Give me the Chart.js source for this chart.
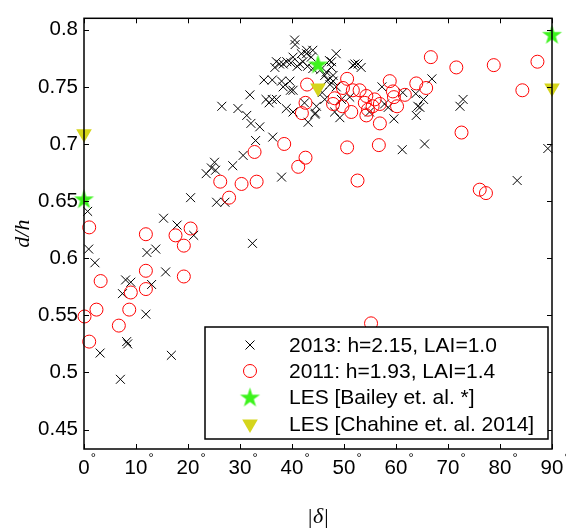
<!DOCTYPE html>
<html>
<head>
<meta charset="utf-8">
<script src="https://cdn.jsdelivr.net/npm/chart.js@4.4.0/dist/chart.umd.min.js"></script>
<style>
  html, body { margin: 0; padding: 0; background: #fff; }
  #wrap { width: 566px; height: 528px; }
</style>
</head>
<body>
<div id="wrap"><canvas id="chart" width="566" height="528"></canvas></div>
<script>
// axis ticks
const xTicks = [0, 10, 20, 30, 40, 50, 60, 70, 80, 90];
const yTicks = [0.45, 0.5, 0.55, 0.6, 0.65, 0.7, 0.75, 0.8];

// series labels
const seriesLabels = [
  '2013: h=2.15, LAI=1.0',
  '2011: h=1.93, LAI=1.4',
  'LES [Bailey et. al. *]',
  'LES [Chahine et. al. 2014]',
];

// 2013 field data: [|delta|, d/h]
const field2013 = [
  [0.7, 0.641], [0.9, 0.608], [2.1, 0.596], [3.1, 0.517], [7.0, 0.494], [8.2, 0.527], [8.4, 0.525],
  [8.0, 0.581], [9.0, 0.579], [7.4, 0.569], [11.9, 0.551], [12.1, 0.605], [13.8, 0.608], [13.0, 0.577],
  [15.7, 0.588], [15.3, 0.635], [17.9, 0.629], [21.1, 0.620], [20.5, 0.653], [16.8, 0.515], [25.5, 0.649],
  [27.1, 0.649], [32.4, 0.613],
  [23.5, 0.674], [24.5, 0.679], [25.1, 0.684], [25.3, 0.677], [28.6, 0.681], [30.6, 0.690], [33.0, 0.703],
  [36.3, 0.706], [38.0, 0.671], [32.1, 0.718], [33.8, 0.715], [26.5, 0.733], [29.6, 0.731], [31.3, 0.725],
  [31.9, 0.743], [35.0, 0.739], [35.6, 0.736], [36.2, 0.739], [34.6, 0.756], [36.2, 0.756], [38.3, 0.750],
  [38.0, 0.755], [39.6, 0.755], [39.7, 0.747], [40.2, 0.747], [37.0, 0.739], [38.9, 0.731], [40.2, 0.728],
  [42.4, 0.736], [43.1, 0.719], [44.5, 0.727], [44.7, 0.733], [44.4, 0.726],
  [36.7, 0.767], [37.0, 0.772], [37.6, 0.770], [38.3, 0.770], [39.0, 0.772], [39.8, 0.771], [40.2, 0.776],
  [40.5, 0.791], [40.6, 0.787], [41.0, 0.768], [41.5, 0.770], [42.1, 0.772], [42.8, 0.779], [41.8, 0.779],
  [42.8, 0.782], [44.0, 0.782], [43.7, 0.776], [43.0, 0.768], [44.0, 0.766], [45.5, 0.765], [46.3, 0.760],
  [46.6, 0.763], [47.2, 0.773], [47.6, 0.767], [47.6, 0.772], [48.5, 0.779], [47.9, 0.760], [46.9, 0.756],
  [47.9, 0.755], [48.5, 0.750], [47.3, 0.752], [46.3, 0.739], [45.8, 0.745], [51.7, 0.769], [52.1, 0.770],
  [52.7, 0.770], [53.3, 0.767],
  [48.2, 0.728], [49.2, 0.723], [49.5, 0.739], [51.1, 0.741], [54.9, 0.728], [57.3, 0.750], [57.8, 0.735],
  [58.5, 0.732], [59.6, 0.722], [61.3, 0.745], [63.8, 0.744], [65.3, 0.739], [64.6, 0.732], [64.2, 0.733],
  [63.9, 0.725], [66.9, 0.757], [72.9, 0.739], [72.3, 0.733], [61.2, 0.695], [65.5, 0.700], [83.3, 0.668],
  [89.2, 0.696],
];

// 2011 field data: [|delta|, d/h]
const field2011 = [
  [0.1, 0.549], [1.0, 0.627], [1.0, 0.527], [3.2, 0.580], [2.4, 0.555], [6.7, 0.541], [8.7, 0.555],
  [9.0, 0.570], [11.9, 0.573], [11.9, 0.589], [11.9, 0.621], [17.6, 0.620], [20.5, 0.626], [19.2, 0.611],
  [19.2, 0.584],
  [26.2, 0.667], [27.9, 0.653], [30.3, 0.665], [33.2, 0.667], [32.8, 0.693], [38.5, 0.700], [41.2, 0.680],
  [42.6, 0.688], [41.9, 0.727], [42.6, 0.736], [42.9, 0.752],
  [50.6, 0.757], [49.8, 0.749], [48.2, 0.740], [49.7, 0.733], [47.9, 0.735], [51.4, 0.728], [51.7, 0.747],
  [53.0, 0.747], [54.3, 0.742], [54.0, 0.736], [54.6, 0.730], [54.3, 0.725], [55.5, 0.733], [55.9, 0.739],
  [56.9, 0.735], [56.9, 0.718], [58.8, 0.755], [59.4, 0.746], [59.6, 0.741], [60.2, 0.733], [61.7, 0.743],
  [63.9, 0.753], [65.8, 0.749], [66.7, 0.776], [71.6, 0.767], [78.8, 0.769], [87.2, 0.772], [84.3, 0.747],
  [72.6, 0.710], [50.6, 0.697], [56.7, 0.699], [52.6, 0.668], [76.1, 0.660], [77.3, 0.657], [55.2, 0.543],
];

// LES results
const lesBailey = [[0, 0.652], [45, 0.770], [90, 0.796]];
const lesChahine = [[0, 0.709], [45, 0.749], [90, 0.749]];

const RED = '#ff0000';
const GREEN = '#3cf31c';
const YELLOW = '#d5d51c';

// filled pentagram used as point style
function makeStar(r, color) {
  const c = document.createElement('canvas');
  const s = Math.ceil(r * 2 + 2);
  c.width = s; c.height = s;
  const g = c.getContext('2d');
  g.fillStyle = color;
  g.beginPath();
  for (let i = 0; i < 10; i++) {
    const rad = i % 2 === 0 ? r : r * 0.382;
    const a = -Math.PI / 2 + i * Math.PI / 5;
    const px = s / 2 + rad * Math.cos(a);
    const py = s / 2 + r * 0.1 + rad * Math.sin(a);
    i === 0 ? g.moveTo(px, py) : g.lineTo(px, py);
  }
  g.closePath();
  g.fill();
  return c;
}
const starImg = makeStar(10.5, GREEN);

const toPts = arr => arr.map(([x, y]) => ({ x, y }));

const frame = {
  id: 'frame',
  afterDraw(chart) {
    const { ctx, chartArea: a, scales: { x, y } } = chart;
    ctx.save();

    // inward ticks on all sides
    ctx.strokeStyle = '#000';
    ctx.lineWidth = 1;
    ctx.beginPath();
    xTicks.forEach(v => {
      const px = Math.round(x.getPixelForValue(v)) + 0.5;
      ctx.moveTo(px, a.bottom); ctx.lineTo(px, a.bottom - 5);
      ctx.moveTo(px, a.top); ctx.lineTo(px, a.top + 5);
    });
    yTicks.forEach(v => {
      const py = Math.round(y.getPixelForValue(v)) + 0.5;
      ctx.moveTo(a.left, py); ctx.lineTo(a.left + 5, py);
      ctx.moveTo(a.right, py); ctx.lineTo(a.right - 5, py);
    });
    ctx.stroke();

    // box
    ctx.lineWidth = 1.5;
    ctx.strokeRect(a.left, a.top, a.right - a.left, a.bottom - a.top);

    // x tick labels with degree sign
    ctx.fillStyle = '#000';
    ctx.textBaseline = 'middle';
    xTicks.forEach(v => {
      const px = x.getPixelForValue(v);
      ctx.font = '20.5px "Liberation Sans"';
      ctx.textAlign = 'center';
      const txt = String(v);
      const w = ctx.measureText(txt).width;
      ctx.fillText(txt, px, a.bottom + 19);
      ctx.font = '13px "Liberation Sans"';
      ctx.textAlign = 'left';
      ctx.fillText('°', px + w / 2 + 1, a.bottom + 9);
    });

    // legend
    const lx = 205, ly = 327, lw = 343, lh = 112;
    ctx.fillStyle = '#fff';
    ctx.fillRect(lx, ly, lw, lh);
    ctx.lineWidth = 1.5;
    ctx.strokeStyle = '#000';
    ctx.strokeRect(lx, ly, lw, lh);
    const rows = [345, 371, 397, 424];
    const mx = 250;
    // cross
    ctx.lineWidth = 1;
    ctx.beginPath();
    ctx.moveTo(mx - 4.5, rows[0] - 4.5); ctx.lineTo(mx + 4.5, rows[0] + 4.5);
    ctx.moveTo(mx + 4.5, rows[0] - 4.5); ctx.lineTo(mx - 4.5, rows[0] + 4.5);
    ctx.stroke();
    // circle
    ctx.strokeStyle = RED;
    ctx.beginPath();
    ctx.arc(mx, rows[1], 6.5, 0, Math.PI * 2);
    ctx.stroke();
    // star
    ctx.drawImage(starImg, mx - starImg.width / 2, rows[2] - starImg.height / 2);
    // triangle
    ctx.fillStyle = YELLOW;
    ctx.beginPath();
    ctx.moveTo(mx - 7.8, rows[3] - 4.5);
    ctx.lineTo(mx + 7.8, rows[3] - 4.5);
    ctx.lineTo(mx, rows[3] + 9);
    ctx.closePath();
    ctx.fill();

    ctx.fillStyle = '#000';
    ctx.font = '21px "Liberation Sans"';
    ctx.textAlign = 'left';
    seriesLabels.forEach((t, i) => ctx.fillText(t, 289, rows[i] + 1));

    ctx.restore();
  }
};

Chart.defaults.font.family = '"Liberation Sans", Arial, sans-serif';
Chart.defaults.color = '#000';

new Chart(document.getElementById('chart'), {
  type: 'scatter',
  data: {
    datasets: [
      {
        label: seriesLabels[3], data: toPts(lesChahine), order: 1, clip: false,
        pointStyle: 'triangle', rotation: 180, pointRadius: 9,
        backgroundColor: YELLOW, borderColor: YELLOW, borderWidth: 0,
      },
      {
        label: seriesLabels[2], data: toPts(lesBailey), order: 2, clip: false,
        pointStyle: starImg, pointRadius: 10,
      },
      {
        label: seriesLabels[1], data: toPts(field2011), order: 3, clip: false,
        pointStyle: 'circle', pointRadius: 6.5,
        backgroundColor: 'rgba(0,0,0,0)', borderColor: RED, borderWidth: 1,
      },
      {
        label: seriesLabels[0], data: toPts(field2013), order: 4, clip: false,
        pointStyle: 'crossRot', pointRadius: 6.3,
        borderColor: '#000', borderWidth: 1,
      },
    ],
  },
  options: {
    responsive: false,
    animation: false,
    devicePixelRatio: 1,
    layout: { padding: { top: 8, right: 14, left: 0, bottom: 0 } },
    plugins: { legend: { display: false }, tooltip: { enabled: false } },
    scales: {
      x: {
        type: 'linear', min: 0, max: 90,
        grid: { display: false, drawTicks: false },
        border: { display: false },
        ticks: { display: false },
        afterBuildTicks: s => { s.ticks = xTicks.map(v => ({ value: v })); },
        afterFit: s => { s.height = 79; },
        title: {
          display: true, text: '|δ|',
          font: { family: '"Liberation Serif"', style: 'italic', size: 22, lineHeight: 1 },
          padding: { top: 0, bottom: 0 },
        },
      },
      y: {
        type: 'linear', min: 0.433, max: 0.81,
        grid: { display: false, drawTicks: false },
        border: { display: false },
        ticks: { font: { size: 20.5 }, padding: 6, callback: v => String(v) },
        afterBuildTicks: s => { s.ticks = yTicks.map(v => ({ value: v })); },
        afterFit: s => { s.width = 84; },
        title: {
          display: true, text: 'd/h',
          font: { family: '"Liberation Serif"', style: 'italic', size: 22, lineHeight: 1 },
          padding: { top: 12, bottom: 0 },
        },
      },
    },
  },
  plugins: [frame],
});
</script>
</body>
</html>
